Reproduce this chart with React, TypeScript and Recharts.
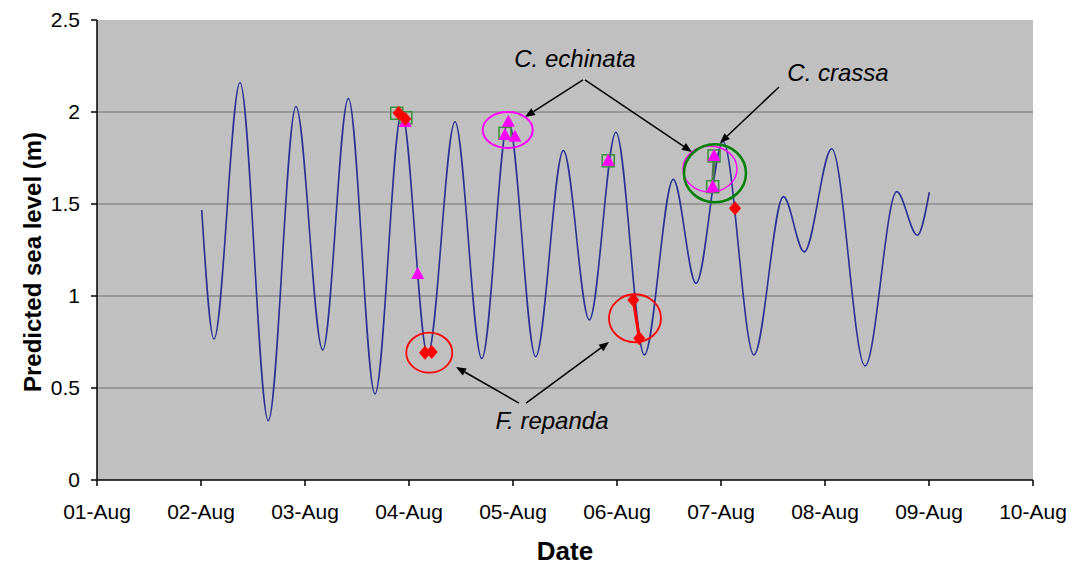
import React from 'react';
import {
  ComposedChart,
  Line,
  Scatter,
  XAxis,
  YAxis,
  CartesianGrid,
  ReferenceDot,
  ReferenceLine,
} from 'recharts';

document.body.style.margin = '0';

const FONT = '"Liberation Sans", Arial, sans-serif';

// x values are days since 01-Aug 00:00
const dayTicks = [0, 1, 2, 3, 4, 5, 6, 7, 8, 9];
const dayLabels = ['01-Aug', '02-Aug', '03-Aug', '04-Aug', '05-Aug', '06-Aug', '07-Aug', '08-Aug', '09-Aug', '10-Aug'];
const levelTicks = [0, 0.5, 1, 1.5, 2, 2.5];

// predicted tide: high / low waters
const tideDays = [
  1.007, 1.125, 1.375, 1.647, 1.913, 2.17, 2.417, 2.673, 2.93, 3.18, 3.442, 3.7, 3.955, 4.218,
  4.484, 4.734, 4.99, 5.263, 5.541, 5.76, 6.02, 6.317, 6.6, 6.8, 7.065, 7.385, 7.69, 7.888, 8.003,
];
const tideLevels = [
  1.467, 0.766, 2.16, 0.322, 2.03, 0.707, 2.074, 0.467, 2.0, 0.68, 1.947, 0.66, 1.955, 0.67,
  1.79, 0.87, 1.89, 0.68, 1.634, 1.069, 1.84, 0.68, 1.54, 1.24, 1.8, 0.62, 1.567, 1.33, 1.564,
];

// F. repanda (red diamonds), points of the same visit are joined
const repandaDays = [2.9, 2.965, 3.154, 3.218, 5.157, 5.214, 6.135];
const repandaLevels = [1.995, 1.962, 0.692, 0.696, 0.978, 0.77, 1.477];
const repandaVisits = [1, 1, 2, 2, 3, 3, 4];

// C. echinata (magenta triangles)
const echinataDays = [2.965, 3.084, 3.923, 3.955, 4.019, 4.916, 5.92, 5.933];
const echinataLevels = [1.946, 1.12, 1.875, 1.947, 1.866, 1.735, 1.594, 1.761];

// C. crassa (green open squares)
const crassaDays = [2.882, 2.97, 3.923, 4.916, 5.92, 5.933];
const crassaLevels = [1.993, 1.969, 1.884, 1.735, 1.594, 1.761];
const crassaVisits = [1, 2, 3, 4, 5, 5];

// annotations
const noteTexts = ['C. echinata', 'C. crassa', 'F. repanda'];
const noteDays = [4.596, 7.125, 4.375];
const noteLevels = [2.293, 2.217, 0.321];

const arrowFrom = [[4.673, 2.174], [4.692, 2.174], [6.558, 2.136], [4.058, 0.418], [4.125, 0.418]];
const arrowTo = [[4.115, 1.973], [5.721, 1.783], [5.99, 1.832], [3.452, 0.614], [4.923, 0.75]];

const ringDays = [3.949, 5.894, 5.942, 3.195, 5.173];
const ringLevels = [1.902, 1.69, 1.667, 0.692, 0.879];
const ringColors = ['#ff00ff', '#ff00ff', '#008000', '#ff0000', '#ff0000'];
const ringRx = [25, 27, 31, 23, 26];
const ringRy = [18, 23, 29, 20, 24];
const ringWidths = [2, 1.5, 2.5, 1.8, 1.8];

const toPoints = (days: number[], levels: number[]) => days.map((t, i) => ({ t, v: levels[i] }));

const groupBy = (days: number[], levels: number[], visits: number[]) => {
  const groups: { t: number; v: number }[][] = [];
  const seen: Record<number, number> = {};
  visits.forEach((g, i) => {
    if (seen[g] === undefined) {
      seen[g] = groups.length;
      groups.push([]);
    }
    groups[seen[g]].push({ t: days[i], v: levels[i] });
  });
  return groups;
};

const tideData = toPoints(tideDays, tideLevels);
const repandaGroups = groupBy(repandaDays, repandaLevels, repandaVisits);
const echinataData = toPoints(echinataDays, echinataLevels);
const crassaGroups = groupBy(crassaDays, crassaLevels, crassaVisits);

const Diamond = ({ cx, cy }: any) => (
  <polygon points={`${cx},${cy - 7} ${cx + 6},${cy} ${cx},${cy + 7} ${cx - 6},${cy}`} fill="#ff0000" />
);

const Triangle = ({ cx, cy }: any) => (
  <polygon points={`${cx},${cy - 7} ${cx + 6.5},${cy + 5} ${cx - 6.5},${cy + 5}`} fill="#ff00ff" />
);

const Square = ({ cx, cy }: any) => (
  <rect x={cx - 6} y={cy - 6} width={12} height={12} fill="none" stroke="#3a8f3a" strokeWidth={1.5} />
);

const Arrow = ({ x1, y1, x2, y2 }: any) => {
  const a = Math.atan2(y2 - y1, x2 - x1);
  const len = 10;
  const half = 4;
  const bx = x2 - len * Math.cos(a);
  const by = y2 - len * Math.sin(a);
  const px = half * Math.sin(a);
  const py = half * Math.cos(a);
  return (
    <g>
      <line x1={x1} y1={y1} x2={bx} y2={by} stroke="#000" strokeWidth={1.5} />
      <polygon points={`${x2},${y2} ${bx + px},${by - py} ${bx - px},${by + py}`} fill="#000" />
    </g>
  );
};

const tickStyle = { fill: '#000', fontSize: 21, fontFamily: FONT };

export default function App() {
  return (
    <div style={{ width: 1073, height: 567, background: '#fff' }}>
      <ComposedChart width={1073} height={567} margin={{ top: 20, right: 40, bottom: 0, left: 0 }}>
        <CartesianGrid
          horizontal
          vertical={false}
          fill="#c0c0c0"
          stroke="#8c8c8c"
          strokeWidth={1.5}
          horizontalValues={[0.5, 1, 1.5, 2]}
        />
        <XAxis
          type="number"
          dataKey="t"
          domain={[0, 9]}
          ticks={dayTicks}
          tickFormatter={(d: number) => dayLabels[d]}
          height={87}
          tickSize={6}
          tickMargin={18}
          tick={tickStyle}
          stroke="#000"
          axisLine={{ stroke: '#000', strokeWidth: 1.5 }}
          tickLine={{ stroke: '#000', strokeWidth: 1.5 }}
          label={(p: any) => {
            const vb = p.viewBox;
            return (
              <text
                x={vb.x + vb.width / 2}
                y={vb.y + 80}
                textAnchor="middle"
                fontSize={26}
                fontWeight="bold"
                fontFamily={FONT}
                fill="#000"
              >
                Date
              </text>
            );
          }}
        />
        <YAxis
          type="number"
          dataKey="v"
          domain={[0, 2.5]}
          ticks={levelTicks}
          width={97}
          tickSize={6}
          tickMargin={11}
          tick={tickStyle}
          stroke="#000"
          axisLine={{ stroke: '#000', strokeWidth: 1.5 }}
          tickLine={{ stroke: '#000', strokeWidth: 1.5 }}
          label={(p: any) => {
            const vb = p.viewBox;
            const cx = vb.x + 32;
            const cy = vb.y + vb.height / 2 + 12;
            return (
              <text
                x={cx}
                y={cy}
                transform={`rotate(-90 ${cx} ${cy})`}
                textAnchor="middle"
                dominantBaseline="central"
                fontSize={24}
                fontWeight="bold"
                fontFamily={FONT}
                fill="#000"
              >
                Predicted sea level (m)
              </text>
            );
          }}
        />
        <Line
          data={tideData}
          dataKey="v"
          type="monotone"
          stroke="#2a3192"
          strokeWidth={1.6}
          dot={false}
          activeDot={false}
          isAnimationActive={false}
        />
        {crassaGroups.map((g, i) => (
          <Scatter
            key={`crassa-${i}`}
            data={g}
            dataKey="v"
            shape={Square}
            line={g.length > 1 ? { stroke: '#4f7a4f', strokeWidth: 3 } : false}
            isAnimationActive={false}
          />
        ))}
        <Scatter data={echinataData} dataKey="v" shape={Triangle} isAnimationActive={false} />
        {repandaGroups.map((g, i) => (
          <Scatter
            key={`repanda-${i}`}
            data={g}
            dataKey="v"
            shape={Diamond}
            line={g.length > 1 ? { stroke: '#ff0000', strokeWidth: 3 } : false}
            isAnimationActive={false}
          />
        ))}
        {ringDays.map((t, i) => (
          <ReferenceDot
            key={`ring-${i}`}
            x={t}
            y={ringLevels[i]}
            r={1}
            shape={({ cx, cy }: any) => (
              <ellipse
                cx={cx}
                cy={cy}
                rx={ringRx[i]}
                ry={ringRy[i]}
                fill="none"
                stroke={ringColors[i]}
                strokeWidth={ringWidths[i]}
              />
            )}
          />
        ))}
        {arrowFrom.map((from, i) => (
          <ReferenceLine
            key={`arrow-${i}`}
            segment={[
              { x: from[0], y: from[1] },
              { x: arrowTo[i][0], y: arrowTo[i][1] },
            ]}
            shape={Arrow}
          />
        ))}
        {noteTexts.map((txt, i) => (
          <ReferenceDot
            key={`note-${i}`}
            x={noteDays[i]}
            y={noteLevels[i]}
            r={1}
            shape={({ cx, cy }: any) => (
              <text
                x={cx}
                y={cy}
                textAnchor="middle"
                dominantBaseline="central"
                fontSize={24}
                fontStyle="italic"
                fontFamily={FONT}
                fill="#000"
              >
                {txt}
              </text>
            )}
          />
        ))}
      </ComposedChart>
    </div>
  );
}
